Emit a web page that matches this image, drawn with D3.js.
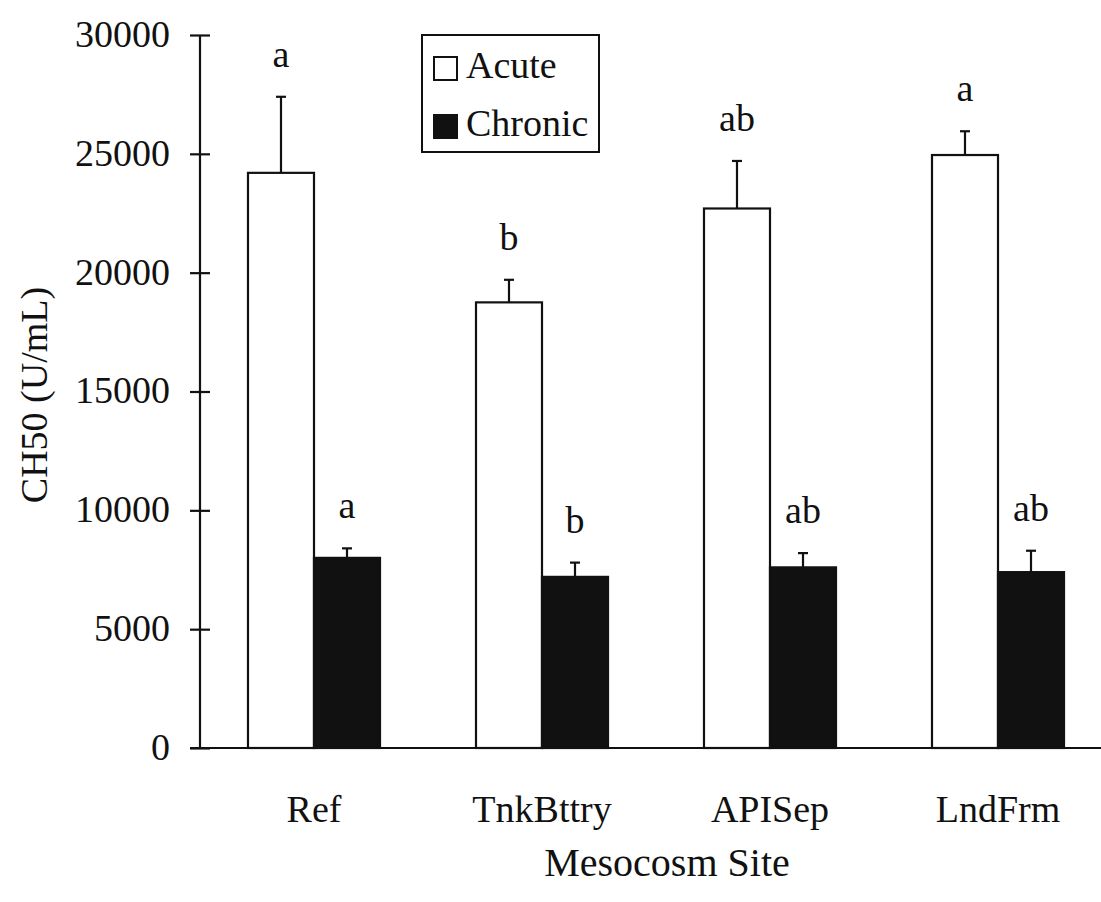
<!DOCTYPE html>
<html>
<head>
<meta charset="utf-8">
<script src="https://cdn.jsdelivr.net/npm/d3@7"></script>
<style>
  html, body { margin: 0; padding: 0; background: #fff; }
  svg { display: block; }
  text { font-family: "Liberation Serif", "Times New Roman", serif; fill: #111; }
</style>
</head>
<body>
<svg id="chart" width="1101" height="902"></svg>
<script>
const categories = ["Ref", "TnkBttry", "APISep", "LndFrm"];
const seriesNames = ["Acute", "Chronic"];
const acuteMeans = [24200, 18750, 22700, 24950];
const acuteErrTop = [27400, 19700, 24700, 25950];
const chronicMeans = [8000, 7200, 7600, 7400];
const chronicErrTop = [8400, 7800, 8200, 8300];
const acuteLetters = ["a", "b", "ab", "a"];
const chronicLetters = ["a", "b", "ab", "ab"];
const yTicks = [0, 5000, 10000, 15000, 20000, 25000, 30000];

const svg = d3.select("#chart");
const ink = "#111";
const fontSize = 38;

const x0 = d3.scaleBand().domain(categories).range([200, 1112])
  .paddingInner(0.421).paddingOuter(0.2105);
const x1 = d3.scaleBand().domain(seriesNames).range([0, x0.bandwidth()]);
const y = d3.scaleLinear().domain([0, 30000]).range([748, 35]);

const data = categories.map((c, i) => ({
  cat: c,
  vals: [
    { s: "Acute", v: acuteMeans[i], e: acuteErrTop[i], l: acuteLetters[i] },
    { s: "Chronic", v: chronicMeans[i], e: chronicErrTop[i], l: chronicLetters[i] }
  ]
}));

// Bars
const g = svg.append("g");
const groups = g.selectAll("g.grp").data(data).join("g")
  .attr("transform", d => `translate(${x0(d.cat)},0)`);

// error bars (upward only)
groups.selectAll("line.err").data(d => d.vals).join("line")
  .attr("x1", d => x1(d.s) + x1.bandwidth() / 2)
  .attr("x2", d => x1(d.s) + x1.bandwidth() / 2)
  .attr("y1", d => y(d.v))
  .attr("y2", d => y(d.e))
  .attr("stroke", ink).attr("stroke-width", 2.2);
groups.selectAll("line.cap").data(d => d.vals).join("line")
  .attr("x1", d => x1(d.s) + x1.bandwidth() / 2 - 5)
  .attr("x2", d => x1(d.s) + x1.bandwidth() / 2 + 5)
  .attr("y1", d => y(d.e))
  .attr("y2", d => y(d.e))
  .attr("stroke", ink).attr("stroke-width", 2.2);

groups.selectAll("rect").data(d => d.vals).join("rect")
  .attr("x", d => x1(d.s))
  .attr("width", x1.bandwidth())
  .attr("y", d => y(d.v))
  .attr("height", d => y(0) - y(d.v))
  .attr("fill", d => d.s === "Acute" ? "#fff" : ink)
  .attr("stroke", ink).attr("stroke-width", 2.2);

// significance letters
groups.selectAll("text.sig").data(d => d.vals).join("text")
  .attr("class", "sig")
  .attr("x", d => x1(d.s) + x1.bandwidth() / 2)
  .attr("y", d => y(d.e) - 30)
  .attr("text-anchor", "middle")
  .attr("font-size", fontSize)
  .text(d => d.l);

// Y axis
const yAxis = d3.axisLeft(y).tickValues(yTicks).tickSize(0).tickPadding(30)
  .tickFormat(d3.format("d"));
const ya = svg.append("g").attr("transform", "translate(200,0)").call(yAxis);
ya.select(".domain").attr("stroke", ink).attr("stroke-width", 2.2)
  .attr("d", `M0,${y(30000)}V${y(0)}`);
ya.selectAll(".tick text").attr("font-size", fontSize)
  .attr("font-family", "Liberation Serif").attr("fill", ink).attr("dy", "0.3em");
ya.selectAll(".tick").append("line")
  .attr("x1", -10).attr("x2", 10).attr("stroke", ink).attr("stroke-width", 2.2);

// X axis baseline
const xAxis = d3.axisBottom(x0).tickSize(0).tickPadding(47);
const xa = svg.append("g").attr("transform", `translate(0,${y(0)})`).call(xAxis);
xa.select(".domain").attr("stroke", ink).attr("stroke-width", 2.2)
  .attr("d", `M190,0H1112`);
xa.selectAll(".tick text").attr("font-size", fontSize)
  .attr("font-family", "Liberation Serif").attr("fill", ink);

// Axis titles
svg.append("text")
  .attr("x", 667).attr("y", 876)
  .attr("text-anchor", "middle").attr("font-size", 40)
  .text("Mesocosm Site");
svg.append("text")
  .attr("transform", "translate(47,395) rotate(-90)")
  .attr("text-anchor", "middle").attr("font-size", fontSize)
  .text("CH50 (U/mL)");

// Legend
const lg = svg.append("g").attr("transform", "translate(422,35)");
lg.append("rect").attr("x", 0).attr("y", 0).attr("width", 177).attr("height", 117)
  .attr("fill", "#fff").attr("stroke", ink).attr("stroke-width", 2);
seriesNames.forEach((s, i) => {
  lg.append("rect")
    .attr("x", 12).attr("y", 22 + i * 58).attr("width", 23).attr("height", 23)
    .attr("fill", i === 0 ? "#fff" : ink).attr("stroke", ink).attr("stroke-width", 2);
  lg.append("text")
    .attr("x", 44).attr("y", 43 + i * 58)
    .attr("font-size", fontSize)
    .text(s);
});
</script>
</body>
</html>
